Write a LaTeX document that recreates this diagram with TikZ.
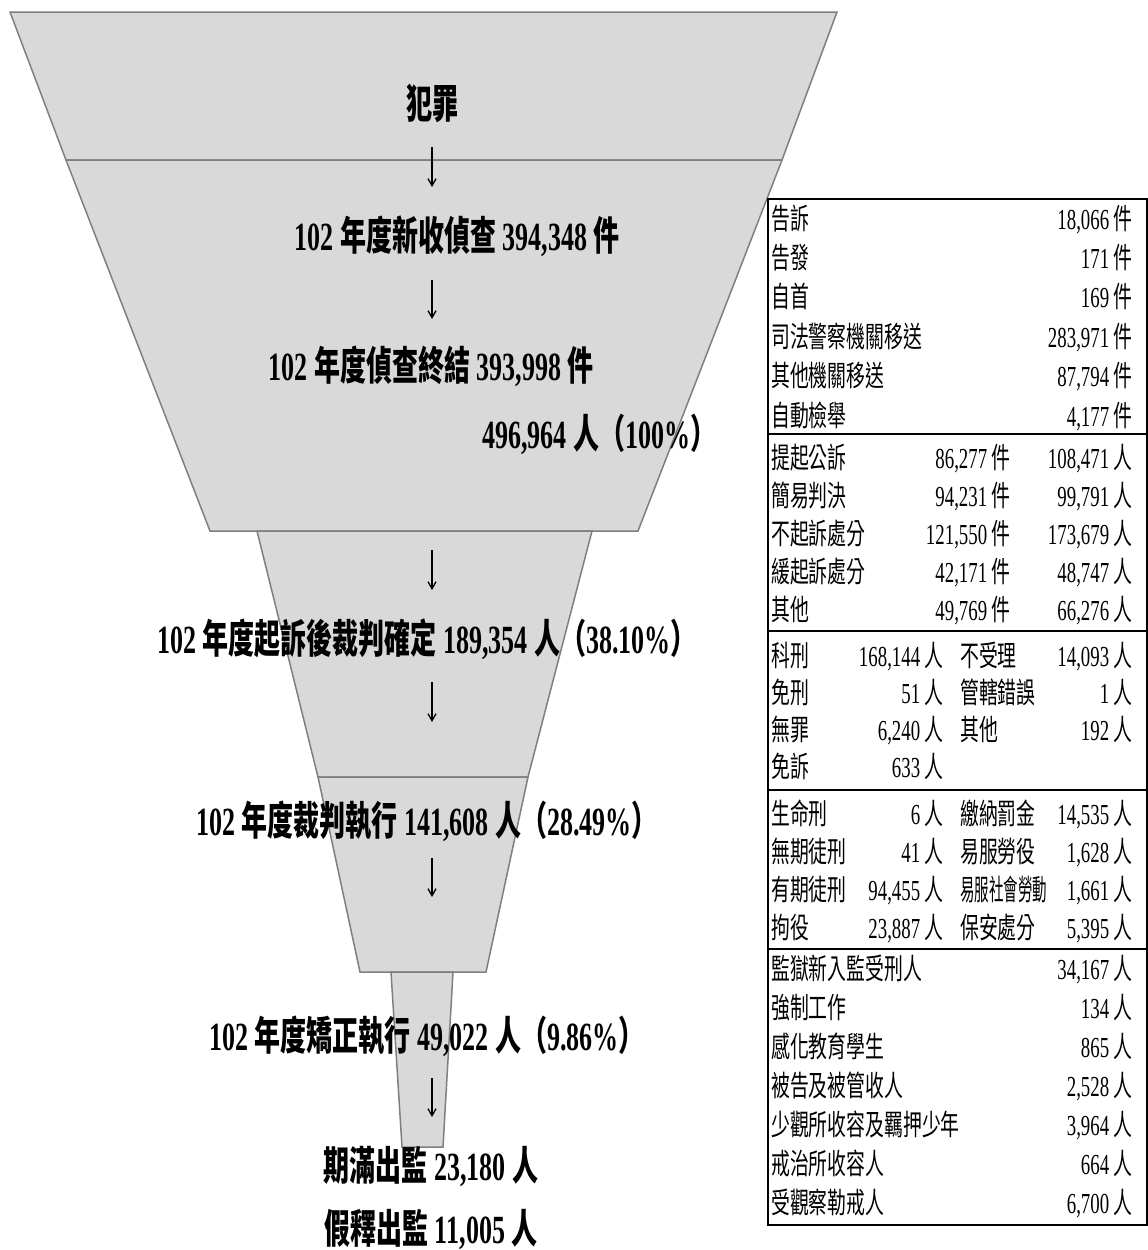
\documentclass[tikz,border=0pt]{standalone}
\usepackage{fontspec}
\usepackage{graphicx}
\usetikzlibrary{arrows.meta}
\setmainfont{Liberation Serif}[FakeStretch=0.65]
\newfontfamily\cjkf{Noto Sans CJK TC}[FakeStretch=0.65]
\newcommand\zh[1]{{\cjkf #1}}
\definecolor{funfill}{HTML}{D9D9D9}
\definecolor{funline}{HTML}{7F7F7F}
\tikzset{
  seg/.style={fill=funfill, draw=funline, line width=1.5pt, line join=miter},
  flab/.style={inner sep=0pt, font=\fontsize{40}{40}\selectfont\bfseries, text height=30pt, text depth=0pt},
  tl/.style={inner sep=0pt, anchor=west, font=\fontsize{29}{29}\selectfont, text height=22pt, text depth=0pt},
  tr/.style={tl, anchor=east},
  flow/.style={-{Straight Barb[length=7pt,width=8pt]}, line width=1.3pt},
  tbox/.style={draw=black, line width=2.2pt, fill=white},
  tdiv/.style={draw=black, line width=2.2pt},
}
\begin{document}
\begin{tikzpicture}[x=1pt, y=-1pt]
\useasboundingbox (0,0) rectangle (1148,1250);
% funnel
\draw[seg] (10,12) -- (837,12) -- (782,160) -- (66,160) -- cycle;
\draw[seg] (66,160) -- (782,160) -- (638,531) -- (210,531) -- cycle;
\draw[seg] (257,531) -- (592,531) -- (528,777) -- (318,777) -- cycle;
\draw[seg] (318,777) -- (528,777) -- (486,972) -- (360,972) -- cycle;
\draw[seg] (391,972) -- (453,972) -- (443,1147) -- (402,1147) -- cycle;
% funnel labels
\node[flab] (crime) at (432,103) {\zh{犯罪}};
\node[flab] (newcase) at (457,235) {102 \zh{年度新收偵查} 394,348 \zh{件}};
\node[flab] (closed) at (431,365) {102 \zh{年度偵查終結} 393,998 \zh{件}};
\node[flab] (persons) at (599,433) {496,964 \zh{人（}100\%\zh{）}};
\node[flab] (verdict) at (427,638) {102 \zh{年度起訴後裁判確定} 189,354 \zh{人（}38.10\%\zh{）}};
\node[flab] (exec) at (427,820) {102 \zh{年度裁判執行} 141,608 \zh{人（}28.49\%\zh{）}};
\node[flab] (corr) at (427,1035) {102 \zh{年度矯正執行} 49,022 \zh{人（}9.86\%\zh{）}};
\node[flab] (expire) at (431,1165) {\zh{期滿出監} 23,180 \zh{人}};
\node[flab] (parole) at (431,1228) {\zh{假釋出監} 11,005 \zh{人}};
% arrows
\coordinate (a1s) at (432,147); \coordinate (a1e) at (432,187);
\coordinate (a2s) at (432,280); \coordinate (a2e) at (432,319);
\coordinate (a3s) at (432,550); \coordinate (a3e) at (432,590);
\coordinate (a4s) at (432,682); \coordinate (a4e) at (432,722);
\coordinate (a5s) at (432,858); \coordinate (a5e) at (432,897);
\coordinate (a6s) at (432,1078); \coordinate (a6e) at (432,1117);
\foreach \k in {1,...,6} {\draw[flow] (a\k s) -- (a\k e);}
% table
\draw[tbox] (768,199) rectangle (1147,1225);
\draw[tdiv] (768,434) -- (1147,434);
\draw[tdiv] (768,631) -- (1147,631);
\draw[tdiv] (768,790) -- (1147,790);
\draw[tdiv] (768,949) -- (1147,949);
% section 1
\foreach \lab/\num [count=\i] in {{告訴/18,066}, {告發/171}, {自首/169}, {司法警察機關移送/283,971}, {其他機關移送/87,794}, {自動檢舉/4,177}} {
  \pgfmathsetmacro\yy{218+(\i-1)*39.4}
  \node[tl] (s1l\i) at (771,\yy) {\zh{\lab}};
  \node[tr] (s1n\i) at (1133,\yy) {\num\ \zh{件}};
}
% section 2
\foreach \lab/\numa/\numb [count=\i] in {{提起公訴/86,277/108,471}, {簡易判決/94,231/99,791}, {不起訴處分/121,550/173,679}, {緩起訴處分/42,171/48,747}, {其他/49,769/66,276}} {
  \pgfmathsetmacro\yy{457+(\i-1)*38.2}
  \node[tl] (s2l\i) at (771,\yy) {\zh{\lab}};
  \node[tr] (s2a\i) at (1011,\yy) {\numa\ \zh{件}};
  \node[tr] (s2b\i) at (1133,\yy) {\numb\ \zh{人}};
}
% section 3
\foreach \lab/\numa [count=\i] in {{科刑/168,144}, {免刑/51}, {無罪/6,240}, {免訴/633}} {
  \pgfmathsetmacro\yy{655+(\i-1)*37.3}
  \node[tl] (s3l\i) at (771,\yy) {\zh{\lab}};
  \node[tr] (s3a\i) at (944,\yy) {\numa\ \zh{人}};
}
\foreach \lab/\numb [count=\i] in {{不受理/14,093}, {管轄錯誤/1}, {其他/192}} {
  \pgfmathsetmacro\yy{655+(\i-1)*37.3}
  \node[tl] (s3m\i) at (960,\yy) {\zh{\lab}};
  \node[tr] (s3b\i) at (1133,\yy) {\numb\ \zh{人}};
}
% section 4
\foreach \lab/\numa [count=\i] in {{生命刑/6}, {無期徒刑/41}, {有期徒刑/94,455}, {拘役/23,887}} {
  \pgfmathsetmacro\yy{813+(\i-1)*38}
  \node[tl] (s4l\i) at (771,\yy) {\zh{\lab}};
  \node[tr] (s4a\i) at (944,\yy) {\numa\ \zh{人}};
}
\node[tl] (s4m1) at (960,813) {\zh{繳納罰金}};
\node[tl] (s4m2) at (960,851) {\zh{易服勞役}};
\node[tl] (s4m3) at (960,889) {\scalebox{0.77}[1]{\zh{易服社會勞動}}};
\node[tl] (s4m4) at (960,927) {\zh{保安處分}};
\foreach \numb [count=\i] in {{14,535}, {1,628}, {1,661}, {5,395}} {
  \pgfmathsetmacro\yy{813+(\i-1)*38}
  \node[tr] (s4b\i) at (1133,\yy) {\numb\ \zh{人}};
}
% section 5
\foreach \lab/\num [count=\i] in {{監獄新入監受刑人/34,167}, {強制工作/134}, {感化教育學生/865}, {被告及被管收人/2,528}, {少觀所收容及羈押少年/3,964}, {戒治所收容人/664}, {受觀察勒戒人/6,700}} {
  \pgfmathsetmacro\yy{968+(\i-1)*39}
  \node[tl] (s5l\i) at (771,\yy) {\zh{\lab}};
  \node[tr] (s5n\i) at (1133,\yy) {\num\ \zh{人}};
}
\end{tikzpicture}
\end{document}
